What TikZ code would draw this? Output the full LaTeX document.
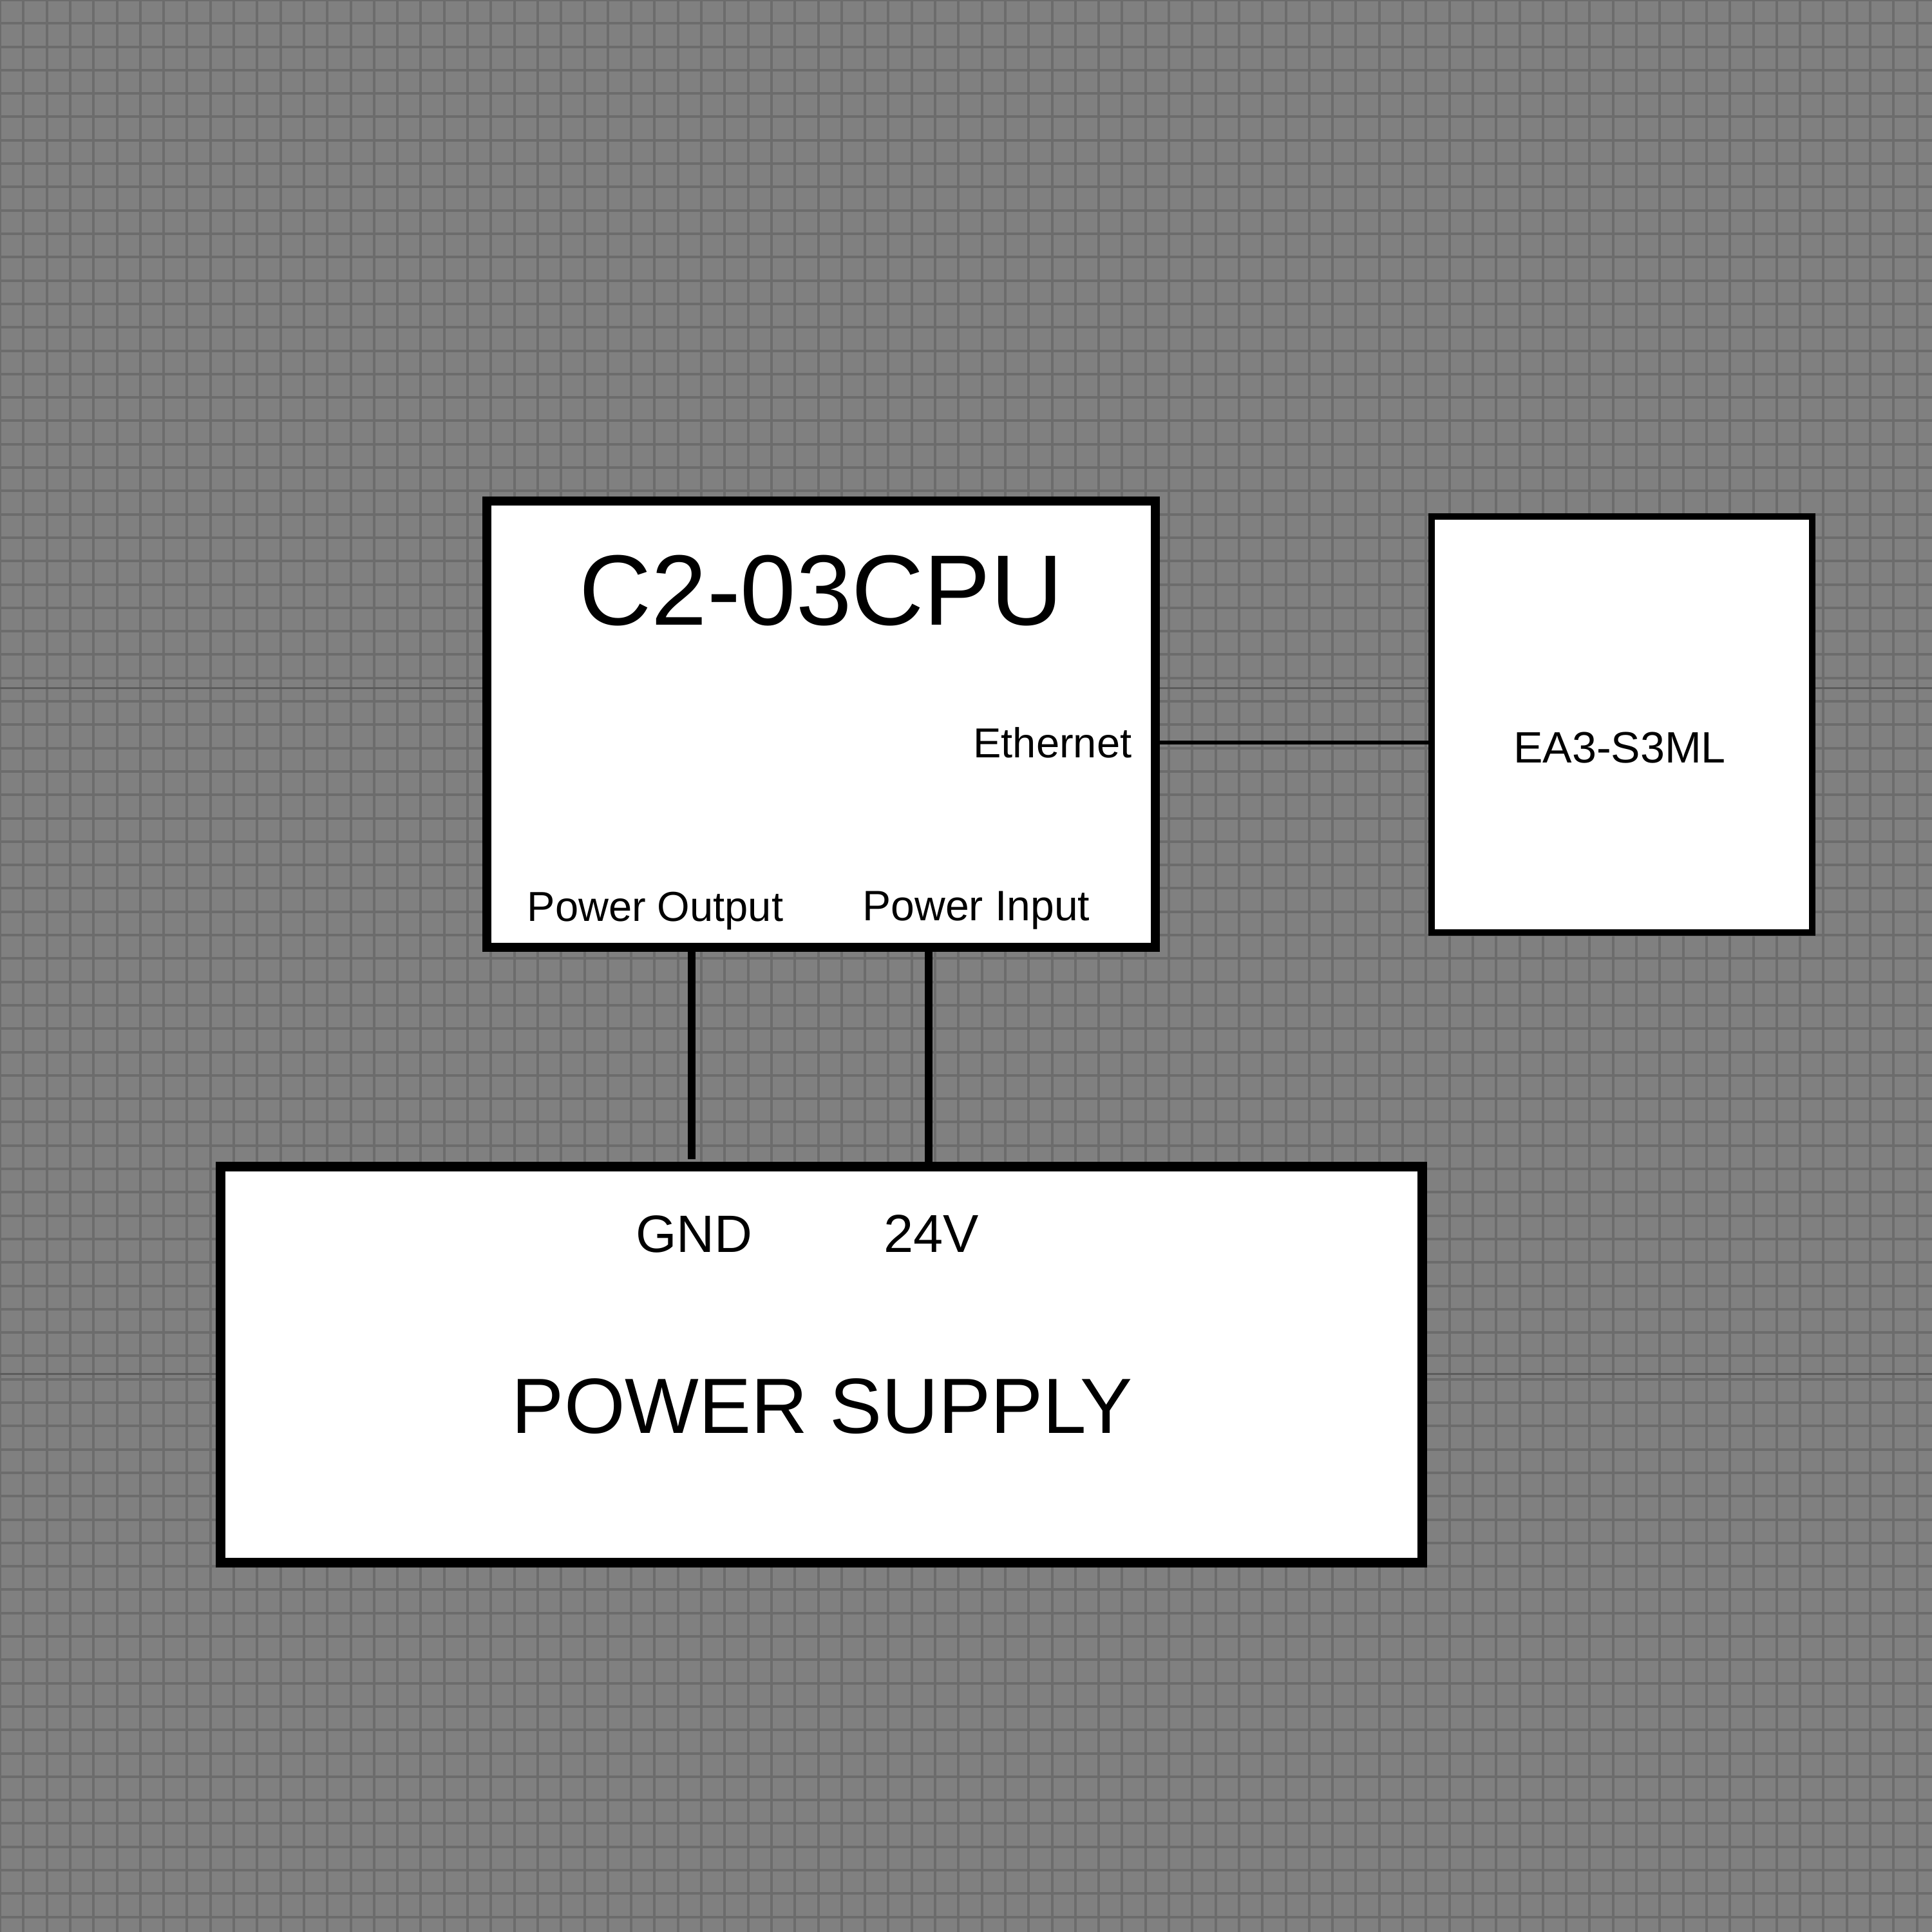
\documentclass[tikz,border=0pt]{standalone}
\usepackage{fontspec}
\setmainfont{Liberation Sans}
\usetikzlibrary{positioning}
\definecolor{bggray}{HTML}{808080}
\definecolor{gridgray}{HTML}{6C6C6C}
\definecolor{majorgray}{HTML}{5C5C5C}

\begin{document}
\begin{tikzpicture}[
		box/.style={
			rectangle,
			draw,
			fill=white,
			inner sep=0pt
		},
		wire/.style={line width=1.15mm},
		thinwire/.style={line width=0.65mm},
		pinlabel/.style={inner sep=0pt, font=\fontsize{18.5}{20}\selectfont}
	]
		% background grid
		\useasboundingbox (0,0) rectangle (30,-30);
		\fill[bggray] (0,0) rectangle (30,-30);
		\draw[gridgray, line width=0.4mm, step=0.363] (0,-30) grid (30,0);
		\draw[majorgray, line width=0.3mm] (0,-10.68) -- (30,-10.68);
		\draw[majorgray, line width=0.3mm] (0,-21.33) -- (30,-21.33);
		
		\draw node[box, line width=1.4mm, minimum width=10.38cm, minimum height=6.93cm](cpu) at (12.75,-11.245){};
		\draw node[box, line width=1mm, minimum width=5.91cm, minimum height=6.46cm](drive) at (25.185,-11.25){};
		\draw node[box, line width=1.5mm, minimum width=18.66cm, minimum height=6.15cm](psu) at (12.75,-21.185){};
		
		\node [inner sep=0pt, anchor=base, font=\fontsize{44.2}{50}\selectfont](cputitle) at (12.75,-9.706) {C2-03CPU};
		\node [pinlabel, anchor=base east](eth) at (17.58,-11.76) {Ethernet};
		\node [pinlabel, anchor=base west](pout) at (8.18,-14.30) {Power Output};
		\node [pinlabel, font=\fontsize{18.8}{20}\selectfont, right=1.22cm of pout](pin) {Power Input};
		\node [inner sep=0pt, anchor=base, font=\fontsize{19.4}{22}\selectfont](drivetitle) at (25.15,-11.84) {EA3-S3ML};
		\node [inner sep=0pt, anchor=base, font=\fontsize{23.2}{26}\selectfont](gnd) at (10.78,-19.44) {GND};
		\node [inner sep=0pt, font=\fontsize{23.6}{26}\selectfont, right=2.02cm of gnd](vin) {24V};
		\node [inner sep=0pt, anchor=base, font=\fontsize{34.6}{38}\selectfont](psutitle) at (12.77,-22.25) {POWER SUPPLY};
		
		\coordinate (gndpin) at (10.74,-18.0);
		\coordinate (vinpin) at (14.42,-18.05);
		\draw[wire] (gndpin |- cpu.south) -- (gndpin);
		\draw[wire] (vinpin |- cpu.south) -- (vinpin);
		\draw[thinwire] (cpu.east |- eth) -- (drive.west |- eth);
	\end{tikzpicture}
\end{document}
